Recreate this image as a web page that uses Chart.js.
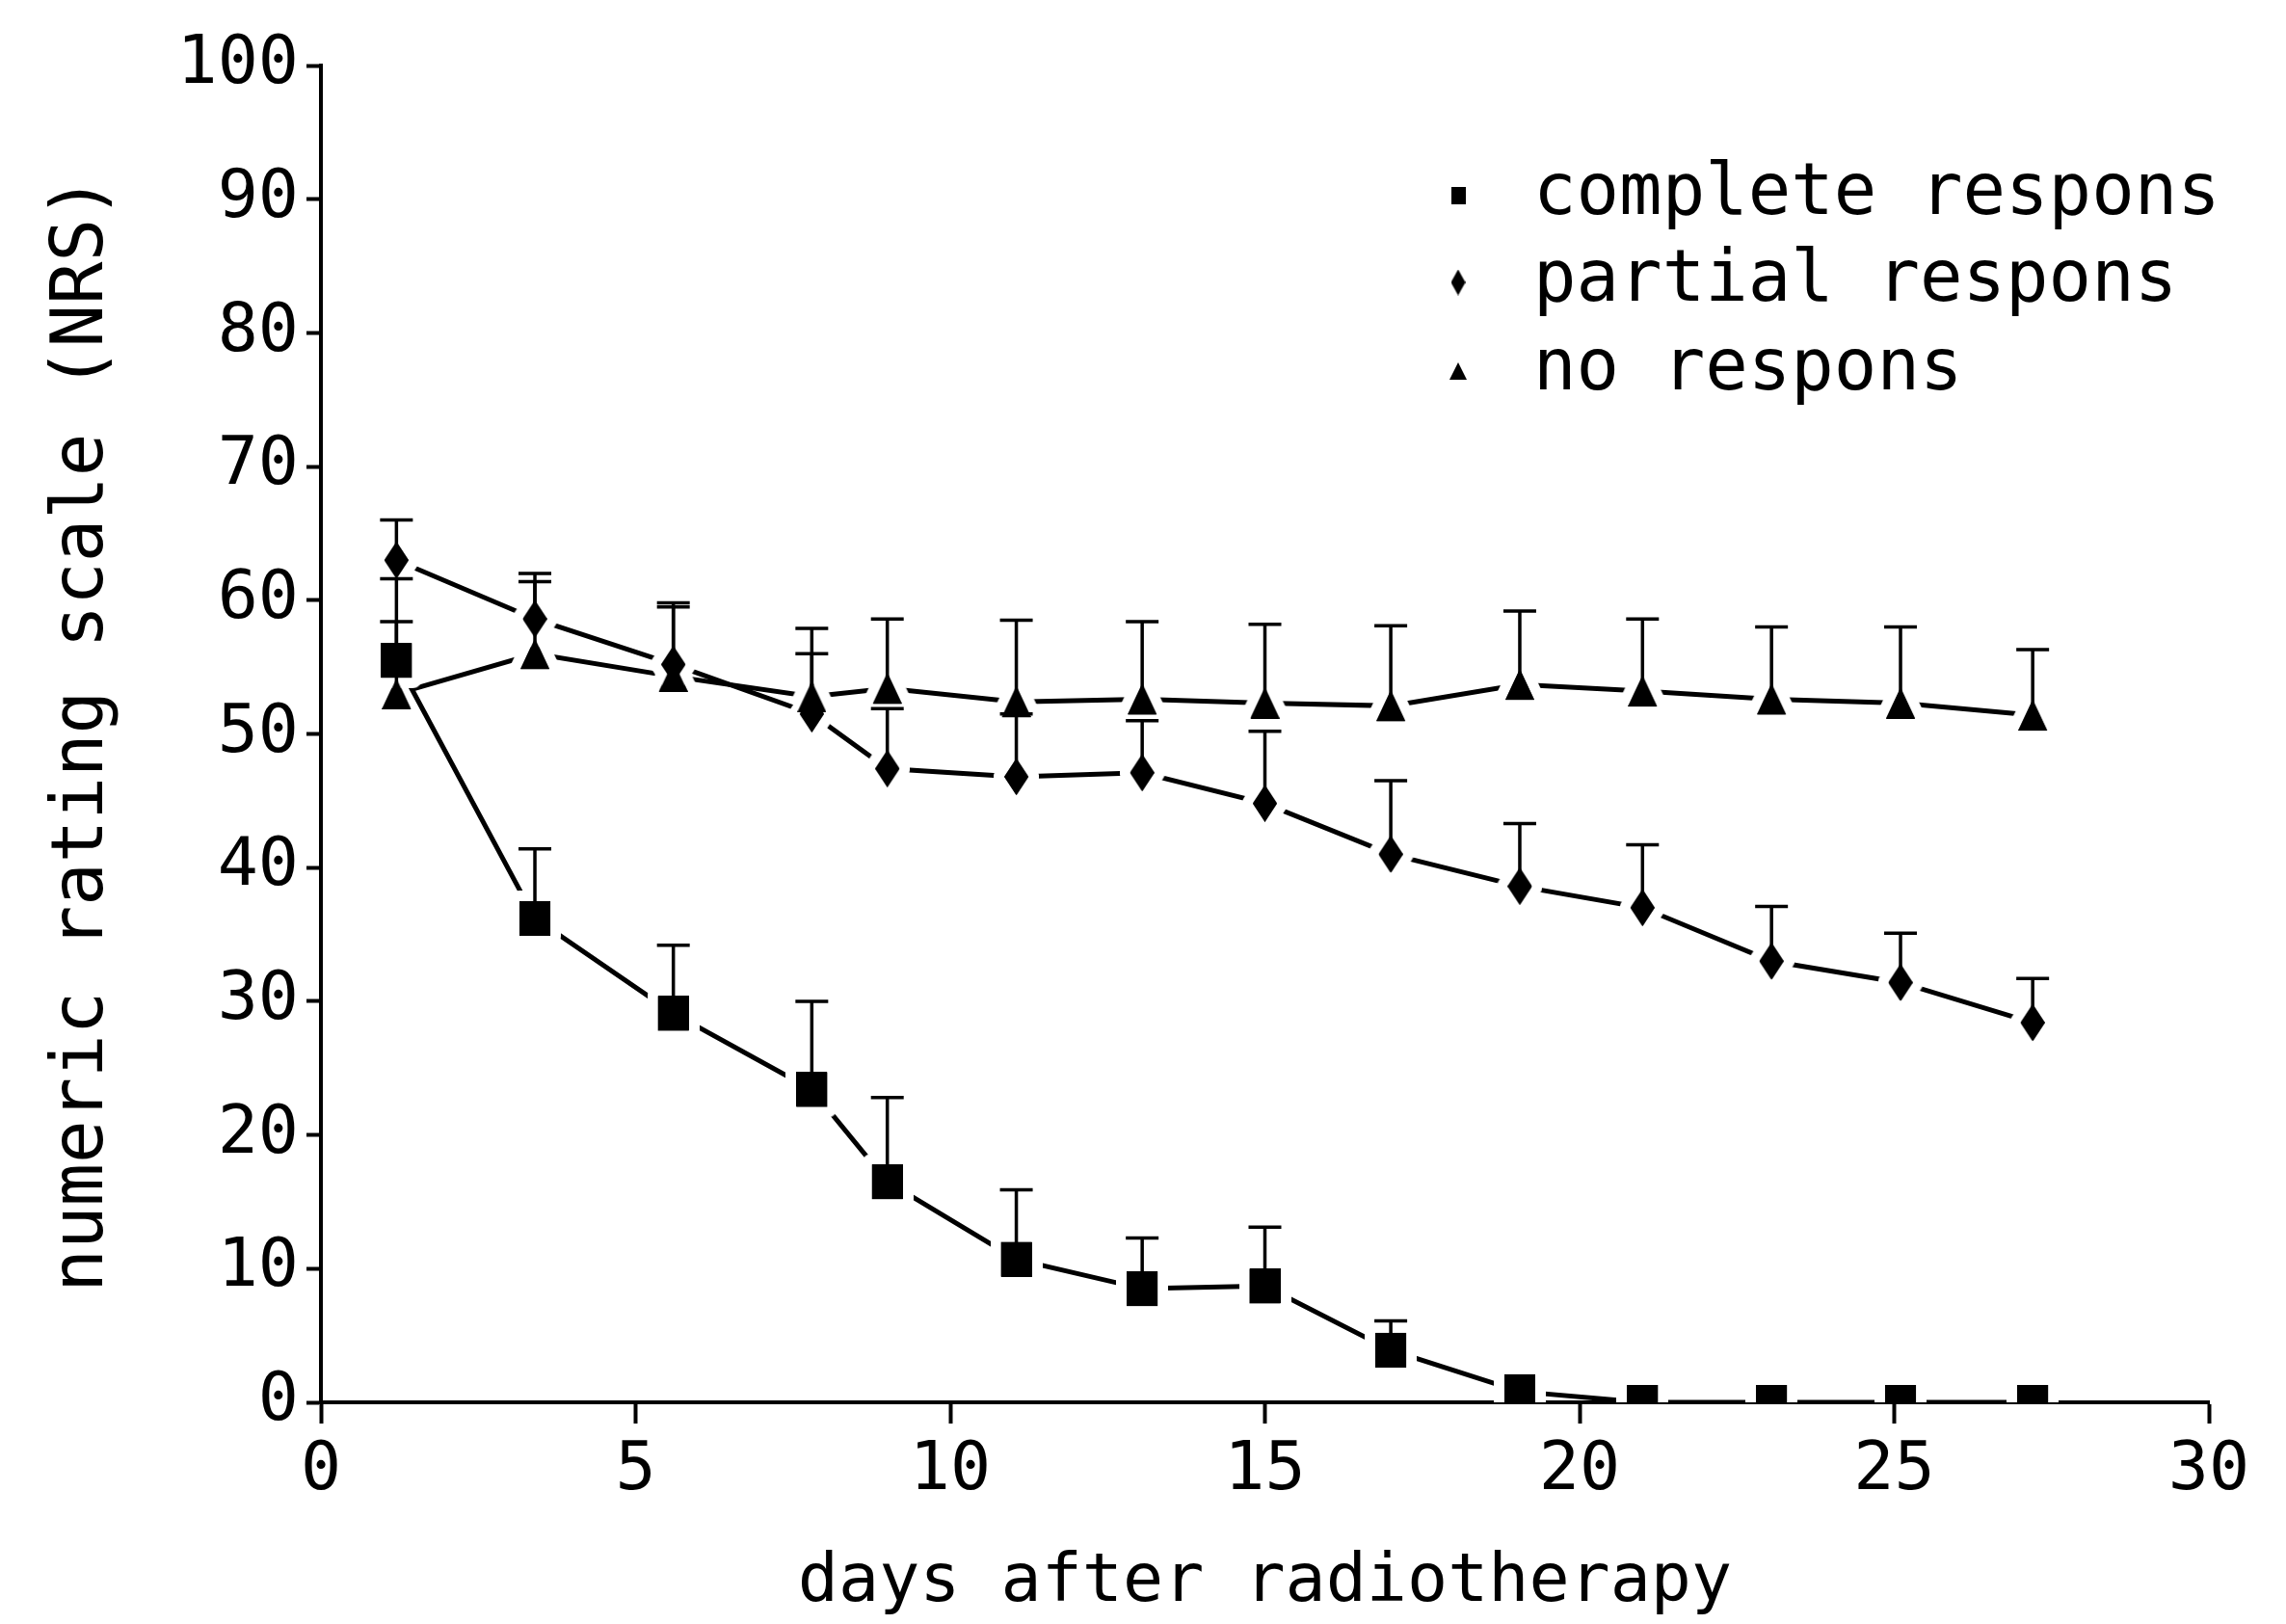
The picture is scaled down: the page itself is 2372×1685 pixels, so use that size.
<!DOCTYPE html>
<html>
<head>
<meta charset="utf-8">
<title>NRS after radiotherapy</title>
<script src="https://cdn.jsdelivr.net/npm/chart.js@4.4.0/dist/chart.umd.min.js"></script>
<style>
  html, body { margin: 0; padding: 0; background: #fff; }
  #wrap { width: 2372px; height: 1685px; }
</style>
</head>
<body>
<div id="wrap"><canvas id="nrsChart" width="2372" height="1685"></canvas></div>
<script>
// ==============================
// DATA
// ==============================
const days = [1.2, 3.4, 5.6, 7.8, 9.0, 11.05, 13.05, 15.0, 17.0, 19.05, 21.0, 23.05, 25.1, 27.2];

const completeLabel = "complete respons";
const complete    = [55.5, 36.2, 29.1, 23.4, 16.5, 10.7, 8.5, 8.7, 3.9, 0.8, 0, 0, 0, 0];
const completeErr = [61.6, 41.4, 34.2, 30.0, 22.8, 15.9, 12.3, 13.1, 6.1, null, null, null, null, null];

const partialLabel = "partial respons";
const partial    = [63.0, 58.6, 55.2, 51.5, 47.4, 46.8, 47.1, 44.8, 41.0, 38.6, 37.0, 33.0, 31.4, 28.4];
const partialErr = [66.0, 62.0, 59.8, 56.0, 51.9, 51.5, 51.0, 50.2, 46.5, 43.3, 41.7, 37.1, 35.1, 31.7];

const noneLabel = "no respons";
const none    = [53.0, 56.0, 54.3, 52.8, 53.4, 52.4, 52.6, 52.3, 52.1, 53.7, 53.2, 52.6, 52.3, 51.4];
const noneErr = [58.4, 61.4, 59.5, 57.9, 58.6, 58.5, 58.4, 58.2, 58.1, 59.2, 58.6, 58.0, 58.0, 56.3];

const xTitle = "days after radiotherapy";
const yTitle = "numeric rating scale (NRS)";

// ==============================
// MARKERS
// ==============================
// shape, optionally with a white halo so the lines stop short of the marks
function makeMarker(kind, w, h, halo) {
  const c = document.createElement("canvas");
  c.width = w + 2 * halo;
  c.height = h + 2 * halo;
  const g = c.getContext("2d");
  g.translate(halo, halo);
  g.beginPath();
  if (kind === "square") {
    g.rect(0, 0, w, h);
  } else if (kind === "diamond") {
    g.moveTo(w / 2, 0);
    g.lineTo(w, h / 2);
    g.lineTo(w / 2, h);
    g.lineTo(0, h / 2);
  } else {
    g.moveTo(w / 2, 0);
    g.lineTo(w, h);
    g.lineTo(0, h);
  }
  g.closePath();
  if (halo > 0) {
    g.strokeStyle = "#fff";
    g.lineWidth = 2 * halo;
    g.lineJoin = "round";
    g.stroke();
  }
  g.fillStyle = "#000";
  g.fill();
  return c;
}

const HALO = 11;
const markSizes = {
  square: [32, 36],
  diamond: [25, 38],
  triangle: [30, 32],
};

function toPoints(values) {
  return days.map((d, i) => ({ x: d, y: values[i] }));
}

// ==============================
// PLUGINS
// ==============================
// error bars (upper side only) + solid marks drawn again on top of the halos
const errorBars = {
  id: "errorBars",
  afterDatasetsDraw(chart) {
    const ctx = chart.ctx;
    const yScale = chart.scales.y;
    const area = chart.chartArea;
    ctx.save();
    ctx.strokeStyle = "#000";
    ctx.lineWidth = 3.5;
    chart.data.datasets.forEach((ds, di) => {
      const meta = chart.getDatasetMeta(di);
      meta.data.forEach((pt, i) => {
        const top = ds.errUp[i];
        if (top === null || top === undefined) return;
        const yTop = yScale.getPixelForValue(top);
        ctx.beginPath();
        ctx.moveTo(pt.x, pt.y);
        ctx.lineTo(pt.x, yTop);
        ctx.moveTo(pt.x - 17, yTop);
        ctx.lineTo(pt.x + 17, yTop);
        ctx.stroke();
      });
    });
    ctx.beginPath();
    ctx.rect(area.left, area.top, area.right - area.left, area.bottom - area.top);
    ctx.clip();
    chart.data.datasets.forEach((ds, di) => {
      const meta = chart.getDatasetMeta(di);
      const m = ds.solidMark;
      meta.data.forEach((pt) => {
        ctx.drawImage(m, pt.x - m.width / 2, pt.y - m.height / 2);
      });
    });
    ctx.restore();
  },
};

const sideLegend = {
  id: "sideLegend",
  afterDraw(chart) {
    const ctx = chart.ctx;
    const area = chart.chartArea;
    const markX = area.left + 1180;
    const textX = area.left + 1258;
    const rows = [area.top + 135, area.top + 225, area.top + 317];
    const marks = [makeMarker("square", 15, 18, 0), makeMarker("diamond", 15, 27, 0), makeMarker("triangle", 18, 18, 0)];
    ctx.save();
    ctx.fillStyle = "#000";
    ctx.font = "74px 'DejaVu Sans Mono'";
    ctx.textBaseline = "middle";
    chart.data.datasets.forEach((ds, i) => {
      const m = marks[i];
      ctx.drawImage(m, markX - m.width / 2, rows[i] - m.height / 2);
      ctx.fillText(ds.label, textX, rows[i]);
    });
    ctx.restore();
  },
};

// ==============================
// CHART
// ==============================
Chart.defaults.font.family = "'DejaVu Sans Mono', monospace";
Chart.defaults.color = "#000";

function series(label, values, err, kind) {
  const [w, h] = markSizes[kind];
  return {
    label: label,
    data: toPoints(values),
    errUp: err,
    solidMark: makeMarker(kind, w, h, 0),
    borderColor: "#000",
    backgroundColor: "#000",
    borderWidth: 5,
    pointStyle: makeMarker(kind, w, h, HALO),
    pointRadius: 16,
    tension: 0,
    clip: 0,
  };
}

const ctx = document.getElementById("nrsChart").getContext("2d");

new Chart(ctx, {
  type: "line",
  data: {
    datasets: [
      series(completeLabel, complete, completeErr, "square"),
      series(partialLabel, partial, partialErr, "diamond"),
      series(noneLabel, none, noneErr, "triangle"),
    ],
  },
  options: {
    responsive: false,
    animation: false,
    layout: { padding: { top: 68, right: 80, left: 0, bottom: 0 } },
    plugins: {
      legend: { display: false },
      tooltip: { enabled: false },
    },
    scales: {
      x: {
        type: "linear",
        min: 0,
        max: 30,
        ticks: { stepSize: 5, font: { size: 70 }, padding: 8, maxRotation: 0 },
        grid: { drawOnChartArea: false, drawTicks: true, tickLength: 22, tickColor: "#000", tickWidth: 4 },
        border: { color: "#000", width: 4 },
        title: { display: true, text: xTitle, font: { size: 70 }, padding: { top: 5, bottom: 0 } },
        afterFit: (s) => { s.height = 230; },
      },
      y: {
        min: 0,
        max: 100,
        ticks: { stepSize: 10, font: { size: 70 }, padding: 8 },
        grid: { drawOnChartArea: false, drawTicks: true, tickLength: 15, tickColor: "#000", tickWidth: 4 },
        border: { color: "#000", width: 4 },
        title: { display: true, text: yTitle, font: { size: 74 }, padding: { top: 42, bottom: 0 } },
        afterFit: (s) => { s.width = 333; },
      },
    },
  },
  plugins: [errorBars, sideLegend],
});
</script>
</body>
</html>
